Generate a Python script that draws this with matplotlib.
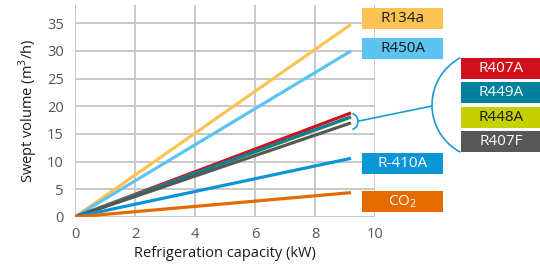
import matplotlib.pyplot as plt
from matplotlib.patches import Rectangle, Arc

plt.rcParams['font.family'] = ['Open Sans', 'DejaVu Sans']

# capacity range of the lines (kW)
x_range = [0, 9.2]
refrigerants = ['R134a', 'R450A', 'R407A', 'R448A', 'R449A', 'R407F', 'R-410A', 'CO2']
end_volume = [34.8, 30.0, 18.8, 18.0, 18.1, 17.0, 10.6, 4.4]
colors = ['#fcc354', '#5bc4f1', '#d0111b', '#c4d000', '#00819b', '#575756', '#0a95d7', '#e56a00']
box_labels = ['R134a', 'R450A', 'R407A', 'R449A', 'R448A', 'R407F', 'R-410A', 'CO$_\\mathregular{2}$']
box_colors = ['#fcc354', '#5bc4f1', '#d0111b', '#00819b', '#c4d000', '#575756', '#0a95d7', '#e56a00']
box_text = ['#1a1a1a', '#1a1a1a', 'white', 'white', '#1a1a1a', 'white', 'white', 'white']

fig = plt.figure(figsize=(5.4, 2.64), dpi=100)
ax = fig.add_axes([75/540, 47/264, 300/540, 212/264])

for name, v, c in zip(refrigerants, end_volume, colors):
    ax.plot(x_range, [0, v], color=c, lw=2.3, solid_capstyle='butt', zorder=3)

ax.set_xlim(0, 10)
ax.set_ylim(0, 38.3)
ax.set_xticks(range(0, 11, 2))
ax.set_yticks(range(0, 36, 5))
for s in ax.spines.values():
    s.set_visible(False)
ax.grid(True, color='#c8c8c8', lw=1.4)
ax.tick_params(length=0, labelsize=10.5, labelcolor='#555555')
ax.tick_params(axis='x', pad=7)
ax.tick_params(axis='y', pad=8)
ax.set_xlabel('Refrigeration capacity (kW)', fontsize=10.5, color='#1a1a1a', labelpad=3)
ax.set_ylabel('Swept volume (m$^\\mathregular{3}$/h)', fontsize=10.5, color='#1a1a1a', labelpad=5)

# overlay in pixel coordinates for the label boxes and bracket
ov = fig.add_axes([0, 0, 1, 1], zorder=5)
ov.set_xlim(0, 540)
ov.set_ylim(264, 0)
ov.axis('off')

boxes = [(362, 8, 81), (362, 38, 81), (461, 58, 80), (461, 82, 80),
         (461, 107, 80), (461, 131, 80), (362, 153, 81), (362, 191, 81)]
for (bx, by, bw), lab, bc, tc in zip(boxes, box_labels, box_colors, box_text):
    ov.add_patch(Rectangle((bx, by), bw, 20.5, color=bc, lw=0))
    ov.text(bx + bw/2, by + 10.5, lab, ha='center', va='center', fontsize=11, color=tc)

blue = '#1a9ad6'
ov.add_patch(Arc((351, 121.5), 14, 16, theta1=-80, theta2=80, color=blue, lw=1.2))
ov.plot([359, 432], [121, 106], color=blue, lw=1.2)
ov.add_patch(Arc((485.4, 105), 106.8, 106.8, theta1=118, theta2=242, color=blue, lw=1.2))

fig.savefig('out.png', dpi=100)
